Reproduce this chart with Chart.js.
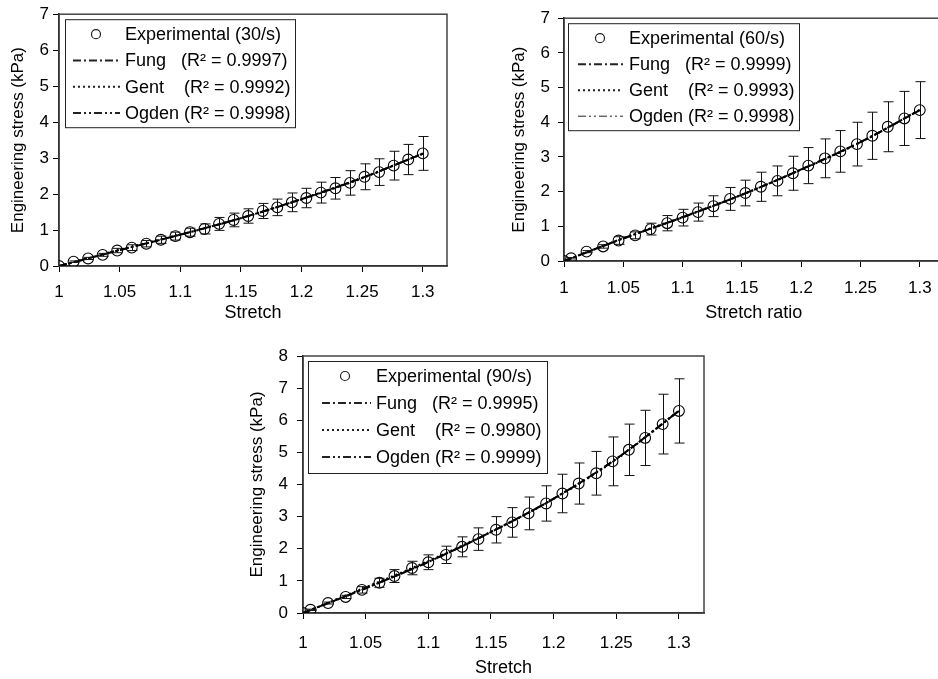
<!DOCTYPE html>
<html>
<head>
<meta charset="utf-8">
<script src="https://cdn.jsdelivr.net/npm/chart.js@4.4.1/dist/chart.umd.min.js"></script>
<style>
  html, body { margin: 0; padding: 0; background: #fff; overflow: hidden; }
  body { width: 938px; height: 679px; position: relative; }
  canvas { position: absolute; }
</style>
</head>
<body>
<canvas id="chart30" width="470" height="325" style="left:0;top:0"></canvas>
<canvas id="chart60" width="480" height="325" style="left:470px;top:0"></canvas>
<canvas id="chart90" width="480" height="359" style="left:240px;top:320px"></canvas>
<script>
// -----------------------------
// DATA
// -----------------------------
const stretch30 = [1.000, 1.012, 1.024, 1.036, 1.048, 1.060, 1.072, 1.084, 1.096, 1.108, 1.120, 1.132, 1.144,
                   1.156, 1.168, 1.180, 1.192, 1.204, 1.216, 1.228, 1.240, 1.252, 1.264, 1.276, 1.288, 1.300];
const stress30  = [0.00, 0.12, 0.21, 0.31, 0.43, 0.51, 0.62, 0.73, 0.83, 0.94, 1.03, 1.17, 1.28,
                   1.39, 1.53, 1.63, 1.77, 1.89, 2.04, 2.16, 2.31, 2.48, 2.61, 2.79, 2.96, 3.13];
const err30     = [0.00, 0.02, 0.03, 0.04, 0.06, 0.08, 0.09, 0.10, 0.11, 0.11, 0.14, 0.18, 0.19,
                   0.20, 0.21, 0.23, 0.26, 0.27, 0.29, 0.30, 0.34, 0.36, 0.37, 0.40, 0.42, 0.47];

const stretch60 = [1.000, 1.006, 1.019, 1.033, 1.046, 1.060, 1.073, 1.087, 1.100, 1.113, 1.126, 1.140,
                   1.153, 1.166, 1.180, 1.193, 1.206, 1.220, 1.233, 1.247, 1.260, 1.273, 1.287, 1.300];
const stress60  = [0.00, 0.08, 0.27, 0.42, 0.59, 0.74, 0.92, 1.09, 1.25, 1.41, 1.58, 1.79,
                   1.96, 2.14, 2.31, 2.53, 2.75, 2.96, 3.16, 3.37, 3.61, 3.87, 4.11, 4.35];
const err60     = [0.00, 0.02, 0.03, 0.05, 0.11, 0.10, 0.17, 0.22, 0.24, 0.26, 0.30, 0.33,
                   0.37, 0.42, 0.43, 0.49, 0.52, 0.56, 0.60, 0.63, 0.68, 0.72, 0.78, 0.82];

const stretch90 = [1.000, 1.006, 1.020, 1.034, 1.047, 1.061, 1.073, 1.087, 1.100, 1.114, 1.127, 1.140,
                   1.154, 1.167, 1.180, 1.194, 1.207, 1.220, 1.234, 1.247, 1.260, 1.273, 1.287, 1.300];
const stress90  = [0.00, 0.10, 0.31, 0.50, 0.72, 0.94, 1.15, 1.40, 1.58, 1.81, 2.06, 2.30,
                   2.59, 2.82, 3.10, 3.41, 3.72, 4.03, 4.35, 4.72, 5.08, 5.45, 5.88, 6.29];
const err90     = [0.00, 0.02, 0.03, 0.05, 0.10, 0.14, 0.20, 0.21, 0.23, 0.27, 0.31, 0.35,
                   0.41, 0.46, 0.51, 0.55, 0.60, 0.64, 0.68, 0.76, 0.80, 0.86, 0.93, 1.00];

// model fits, sampled at the x tick positions
const fitStretch = [1.00, 1.05, 1.10, 1.15, 1.20, 1.25, 1.30];
const fung30  = [0.00, 0.44, 0.87, 1.33, 1.86, 2.45, 3.12];
const gent30  = [0.00, 0.45, 0.88, 1.33, 1.85, 2.44, 3.13];
const ogden30 = [0.00, 0.44, 0.87, 1.33, 1.86, 2.45, 3.12];
const fung60  = [0.00, 0.65, 1.26, 1.91, 2.64, 3.43, 4.35];
const gent60  = [0.00, 0.66, 1.27, 1.91, 2.63, 3.42, 4.36];
const ogden60 = [0.00, 0.65, 1.26, 1.91, 2.64, 3.43, 4.35];
const fung90  = [0.00, 0.77, 1.59, 2.52, 3.56, 4.80, 6.29];
const gent90  = [0.00, 0.80, 1.62, 2.53, 3.55, 4.78, 6.30];
const ogden90 = [0.00, 0.77, 1.59, 2.52, 3.56, 4.80, 6.29];

const legend30 = ['Experimental (30/s)', 'Fung   (R\u00B2 = 0.9997)', 'Gent    (R\u00B2 = 0.9992)', 'Ogden (R\u00B2 = 0.9998)'];
const legend60 = ['Experimental (60/s)', 'Fung   (R\u00B2 = 0.9999)', 'Gent    (R\u00B2 = 0.9993)', 'Ogden (R\u00B2 = 0.9998)'];
const legend90 = ['Experimental (90/s)', 'Fung   (R\u00B2 = 0.9995)', 'Gent    (R\u00B2 = 0.9980)', 'Ogden (R\u00B2 = 0.9999)'];

const FONT = '"Liberation Sans", Arial, sans-serif';
const FUNG_DASH = [8, 3, 2, 3];
const GENT_DASH = [2, 3];
const OGDEN_DASH = [8, 3, 2, 3, 2, 3];

// -----------------------------
// PLUGINS
// -----------------------------
const framePlugin = {
    id: 'frame',
    beforeDatasetsDraw(chart) {
        const { ctx, chartArea: a } = chart;
        ctx.save();
        ctx.strokeStyle = '#444';
        ctx.lineWidth = 1.5;
        ctx.strokeRect(a.left, a.top, a.right - a.left, a.bottom - a.top);
        ctx.restore();
    }
};

const errorBarPlugin = {
    id: 'errorBars',
    afterDatasetsDraw(chart, args, opts) {
        const { ctx, scales: { x, y } } = chart;
        const ds = chart.data.datasets[0];
        ctx.save();
        ctx.strokeStyle = '#111';
        ctx.lineWidth = 1;
        ds.data.forEach((p, i) => {
            const e = opts.errors[i];
            if (!e) return;
            const px = Math.round(x.getPixelForValue(p.x)) + 0.5;
            const top = y.getPixelForValue(p.y + e);
            const bot = y.getPixelForValue(p.y - e);
            ctx.beginPath();
            ctx.moveTo(px, top); ctx.lineTo(px, bot);
            ctx.moveTo(px - 5, top); ctx.lineTo(px + 5, top);
            ctx.moveTo(px - 5, bot); ctx.lineTo(px + 5, bot);
            ctx.stroke();
        });
        ctx.restore();
    }
};

const boxLegendPlugin = {
    id: 'boxLegend',
    afterDraw(chart, args, opts) {
        const { ctx, chartArea: a } = chart;
        const bx = a.left + opts.dx, by = a.top + opts.dy;
        ctx.save();
        ctx.fillStyle = '#fff';
        ctx.fillRect(bx, by, opts.w, opts.h);
        ctx.strokeStyle = '#222';
        ctx.lineWidth = 1;
        ctx.strokeRect(bx + 0.5, by + 0.5, opts.w, opts.h);

        ctx.font = '18px ' + FONT;
        ctx.fillStyle = '#000';
        ctx.textBaseline = 'middle';
        const dashes = [null, FUNG_DASH, GENT_DASH, OGDEN_DASH];
        opts.labels.forEach((label, i) => {
            const ry = by + opts.row0 + i * opts.rowStep;
            if (i === 0) {
                ctx.beginPath();
                ctx.lineWidth = 1.2;
                ctx.arc(bx + opts.sym, ry, 4.5, 0, Math.PI * 2);
                ctx.stroke();
            } else {
                ctx.beginPath();
                ctx.setLineDash(dashes[i]);
                ctx.lineWidth = (i === 3 && opts.thinOgden) ? 1 : 2;
                ctx.moveTo(bx + opts.l0, ry);
                ctx.lineTo(bx + opts.l1, ry);
                ctx.stroke();
                ctx.setLineDash([]);
            }
            ctx.fillText(label, bx + opts.tx, ry + 1);
        });
        ctx.restore();
    }
};

// -----------------------------
// CHART BUILDER
// -----------------------------
function makeChart(id, cfg) {
    const pts = cfg.stretch.map((s, i) => ({ x: s, y: cfg.stress[i] }));
    const fit = arr => fitStretch.map((s, i) => ({ x: s, y: arr[i] }));
    const line = (arr, dash, width) => ({
        type: 'line',
        data: fit(arr),
        borderColor: '#000',
        borderWidth: width,
        borderDash: dash,
        pointRadius: 0,
        cubicInterpolationMode: 'monotone',
        fill: false
    });

    return new Chart(document.getElementById(id), {
        type: 'scatter',
        data: {
            datasets: [
                {
                    label: cfg.legend[0],
                    data: pts,
                    pointStyle: 'circle',
                    pointRadius: 5.4,
                    pointBorderWidth: 1.1,
                    pointBorderColor: '#000',
                    pointBackgroundColor: 'rgba(0,0,0,0)',
                    showLine: false
                },
                line(cfg.fung, FUNG_DASH, 2),
                line(cfg.gent, GENT_DASH, 2),
                line(cfg.ogden, OGDEN_DASH, 2)
            ]
        },
        options: {
            responsive: false,
            animation: false,
            devicePixelRatio: 1,
            layout: { padding: cfg.padding },
            plugins: {
                legend: { display: false },
                tooltip: { enabled: false },
                errorBars: { errors: cfg.err },
                boxLegend: Object.assign({ labels: cfg.legend }, cfg.box)
            },
            scales: {
                x: {
                    type: 'linear',
                    min: 1,
                    max: 1.32,
                    afterFit: s => { s.height = cfg.xHeight; },
                    ticks: {
                        stepSize: 0.05,
                        includeBounds: false,
                        color: '#000',
                        padding: cfg.xTickPad,
                        font: { family: FONT, size: 17 },
                        callback: v => String(+v.toFixed(2))
                    },
                    grid: { drawOnChartArea: false, drawTicks: true, tickLength: 6, color: '#000' },
                    border: { color: '#000', width: 1.5 },
                    title: {
                        display: true,
                        text: cfg.xTitle,
                        color: '#000',
                        font: { family: FONT, size: 18 },
                        padding: { top: 0, bottom: cfg.xTitlePad }
                    }
                },
                y: {
                    min: 0,
                    max: cfg.yMax,
                    afterFit: s => { s.width = cfg.yWidth; },
                    ticks: {
                        stepSize: 1,
                        color: '#000',
                        padding: cfg.yTickPad,
                        font: { family: FONT, size: 17 }
                    },
                    grid: { drawOnChartArea: false, drawTicks: true, tickLength: 6, color: '#000' },
                    border: { color: '#000', width: 1.5 },
                    title: {
                        display: true,
                        text: 'Engineering stress (kPa)',
                        color: '#000',
                        font: { family: FONT, size: 17 },
                        padding: { top: cfg.yTitlePad, bottom: 0 }
                    }
                }
            }
        },
        plugins: [framePlugin, errorBarPlugin, boxLegendPlugin]
    });
}

// -----------------------------
// THE THREE PANELS
// -----------------------------
makeChart('chart30', {
    stretch: stretch30, stress: stress30, err: err30,
    fung: fung30, gent: gent30, ogden: ogden30, legend: legend30,
    xTitle: 'Stretch', yMax: 7,
    padding: { left: 0, top: 14, right: 23, bottom: 0 },
    xHeight: 59, yWidth: 59, yTickPad: 4, yTitlePad: 8, xTitlePad: 1, xTickPad: 10,
    box: { dx: 6, dy: 5, w: 230, h: 108, row0: 15, rowStep: 26.3, sym: 31, l0: 8, l1: 55, tx: 60 }
});

makeChart('chart60', {
    stretch: stretch60, stress: stress60, err: err60,
    fung: fung60, gent: gent60, ogden: ogden60, legend: legend60,
    xTitle: 'Stretch ratio', yMax: 7,
    padding: { left: 0, top: 14, right: 3, bottom: 0 },
    xHeight: 64, yWidth: 94, yTickPad: 8, yTitlePad: 39, xTitlePad: 1, xTickPad: 11,
    box: { dx: 4, dy: 5, w: 231, h: 107, row0: 15, rowStep: 26, sym: 32, l0: 10, l1: 55, tx: 61, thinOgden: true }
});

makeChart('chart90', {
    stretch: stretch90, stress: stress90, err: err90,
    fung: fung90, gent: gent90, ogden: ogden90, legend: legend90,
    xTitle: 'Stretch', yMax: 8,
    padding: { left: 0, top: 36, right: 16, bottom: 0 },
    xHeight: 66, yWidth: 63, yTickPad: 9, yTitlePad: 7, xTitlePad: 0, xTickPad: 14,
    box: { dx: 5, dy: 5, w: 239, h: 112, row0: 15, rowStep: 27, sym: 37, l0: 14, l1: 63, tx: 68 }
});
</script>
</body>
</html>
